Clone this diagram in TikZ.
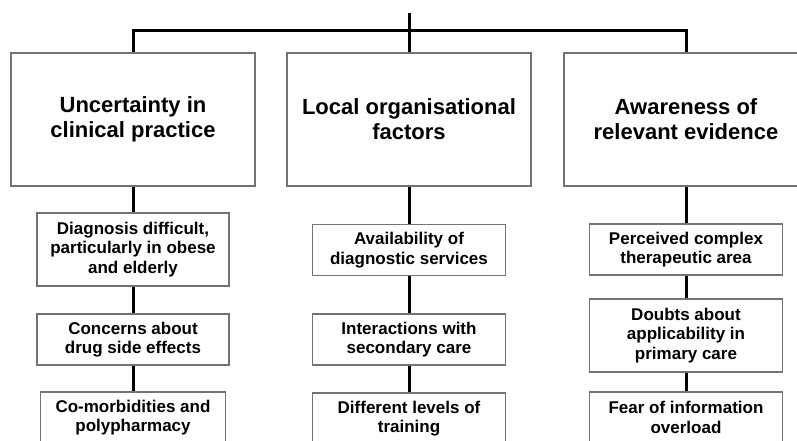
\documentclass[tikz,border=0pt]{standalone}
\usepackage{fontspec}
\setmainfont{Liberation Sans}
\begin{document}
\begin{tikzpicture}[x=1pt,y=-1pt,
   headbox/.style={draw=black!55,line width=1.3pt,rectangle,inner sep=0pt,align=center,
      minimum width=244pt,minimum height=133pt,font=\fontsize{22}{25}\selectfont\bfseries},
   itembox/.style={draw=black!55,line width=1.3pt,rectangle,inner sep=0pt,align=center,
      minimum width=193pt,minimum height=51pt,font=\fontsize{17}{19.5}\selectfont\bfseries},
   link/.style={black,line width=3pt}]
   \path [use as bounding box,clip] (0,0) rectangle (797,441);
   \node [headbox] (uncert) at (133,119.5) {Uncertainty in\\clinical practice};
   \node [headbox] (local) at (409,119.5) {Local organisational\\factors};
   \node [headbox] (aware) at (686,119.5) {Awareness of\\relevant evidence};
   \node [itembox,minimum width=192pt,minimum height=73pt] (diag) at (133,249.5) {Diagnosis difficult,\\particularly in obese\\and elderly};
   \node [itembox,minimum width=192pt] (sidefx) at (133,339.5) {Concerns about\\drug side effects};
   \node [itembox,minimum width=185pt] (comorb) at (133,417.5) {Co-morbidities and\\polypharmacy};
   \node [itembox] (avail) at (409,250) {Availability of\\diagnostic services};
   \node [itembox] (secondary) at (409,339.5) {Interactions with\\secondary care};
   \node [itembox] (training) at (409,418.5) {Different levels of\\training};
   \node [itembox] (complex) at (686,249.5) {Perceived complex\\therapeutic area};
   \node [itembox,minimum height=73pt] (doubts) at (686,335.5) {Doubts about\\applicability in\\primary care};
   \node [itembox] (overload) at (686,417.5) {Fear of information\\overload};
   \coordinate (root) at (409,13);
   \coordinate (bar) at (409,31);
   \draw [link] (local.north) -- (root);
   \draw [link] (uncert.north) |- (bar) -| (aware.north);
   \draw [link] (uncert.south) -- (diag.north);
   \draw [link] (diag.south) -- (sidefx.north);
   \draw [link] (sidefx.south) -- (comorb.north);
   \draw [link] (local.south) -- (avail.north);
   \draw [link] (avail.south) -- (secondary.north);
   \draw [link] (secondary.south) -- (training.north);
   \draw [link] (aware.south) -- (complex.north);
   \draw [link] (complex.south) -- (doubts.north);
   \draw [link] (doubts.south) -- (overload.north);
\end{tikzpicture}
\end{document}
